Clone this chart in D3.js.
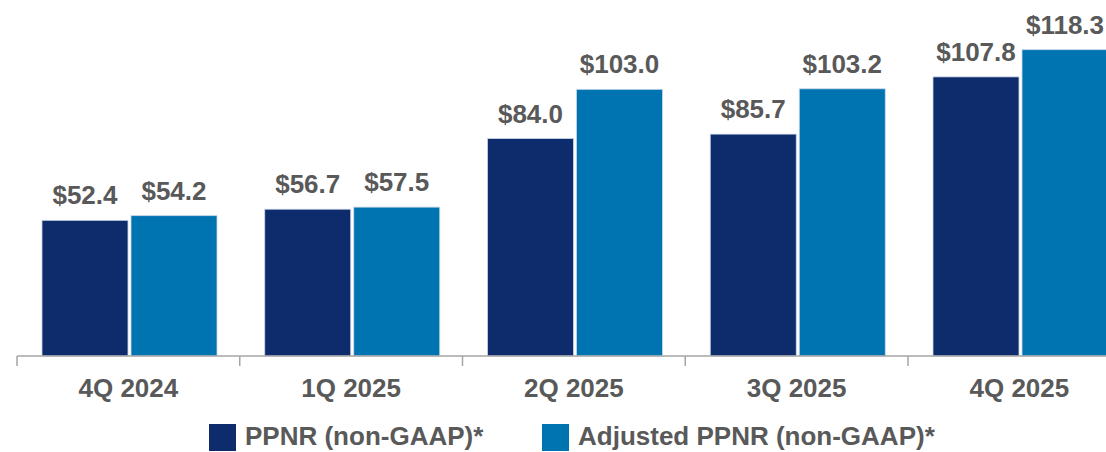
<!DOCTYPE html>
<html>
<head>
<meta charset="utf-8">
<script src="https://cdn.jsdelivr.net/npm/d3@7"></script>
<style>
  body { margin: 0; background: #fff; }
  svg text { font-family: "Liberation Sans", Arial, sans-serif; font-weight: bold; fill: #595959; }
</style>
</head>
<body>
<div id="chart"></div>
<script>
var quarters = ['4Q 2024', '1Q 2025', '2Q 2025', '3Q 2025', '4Q 2025'];
var series = ['PPNR (non-GAAP)*', 'Adjusted PPNR (non-GAAP)*'];
var ppnr = [52.4, 56.7, 84.0, 85.7, 107.8];
var adjPpnr = [54.2, 57.5, 103.0, 103.2, 118.3];
var colors = ['#0e2b6b', '#0073b1'];

var width = 1106, height = 452;
var axisY = 356;

var svg = d3.select('#chart').append('svg')
  .attr('width', width)
  .attr('height', height);

// categories: each slot ~223px wide, the last one runs off the right edge
var x = d3.scaleBand()
  .domain(quarters)
  .range([17, 17 + 5 * 222.75]);

var xSub = d3.scaleBand()
  .domain(series)
  .range([25, 200])
  .paddingInner(0.034);

var y = d3.scaleLinear()
  .domain([0, 137.5])
  .range([axisY, 0]);

var rows = [];
quarters.forEach(function (q, i) {
  rows.push({ q: q, s: series[0], v: ppnr[i], c: colors[0] });
  rows.push({ q: q, s: series[1], v: adjPpnr[i], c: colors[1] });
});

// bars
svg.selectAll('.bar')
  .data(rows)
  .enter().append('rect')
  .attr('class', 'bar')
  .attr('x', function (d) { return x(d.q) + xSub(d.s); })
  .attr('y', function (d) { return y(d.v); })
  .attr('width', xSub.bandwidth())
  .attr('height', function (d) { return axisY - y(d.v); })
  .style('fill', function (d) { return d.c; })
  .style('stroke', '#c9d6e8')
  .style('stroke-width', 0.8);

// value labels
svg.selectAll('.val')
  .data(rows)
  .enter().append('text')
  .attr('class', 'val')
  .attr('x', function (d) { return x(d.q) + xSub(d.s) + xSub.bandwidth() / 2; })
  .attr('y', function (d) { return y(d.v) - 16; })
  .attr('text-anchor', 'middle')
  .attr('font-size', 26)
  .text(function (d) { return '$' + d.v.toFixed(1); });

// category axis: baseline plus ticks at slot boundaries
var axis = svg.append('g');
axis.append('line')
  .attr('x1', x.range()[0]).attr('x2', x.range()[1])
  .attr('y1', axisY).attr('y2', axisY)
  .style('stroke', '#a6a6a6').style('stroke-width', 1.5);

var bounds = quarters.map(function (q) { return x(q); }).concat([x.range()[1]]);
axis.selectAll('.tick')
  .data(bounds)
  .enter().append('line')
  .attr('x1', function (d) { return d; }).attr('x2', function (d) { return d; })
  .attr('y1', axisY).attr('y2', axisY + 10)
  .style('stroke', '#a6a6a6').style('stroke-width', 1.5);

axis.selectAll('.cat')
  .data(quarters)
  .enter().append('text')
  .attr('x', function (d) { return x(d) + x.bandwidth() / 2; })
  .attr('y', 397)
  .attr('text-anchor', 'middle')
  .attr('font-size', 26)
  .text(function (d) { return d; });

// legend
var legendX = [209, 542];
var legend = svg.selectAll('.legend')
  .data(series)
  .enter().append('g')
  .attr('transform', function (d, i) { return 'translate(' + legendX[i] + ',424)'; });

legend.append('rect')
  .attr('width', 27).attr('height', 27)
  .style('fill', function (d, i) { return colors[i]; });

legend.append('text')
  .attr('x', 36)
  .attr('y', 21)
  .attr('font-size', 26)
  .text(function (d) { return d; });
</script>
</body>
</html>
